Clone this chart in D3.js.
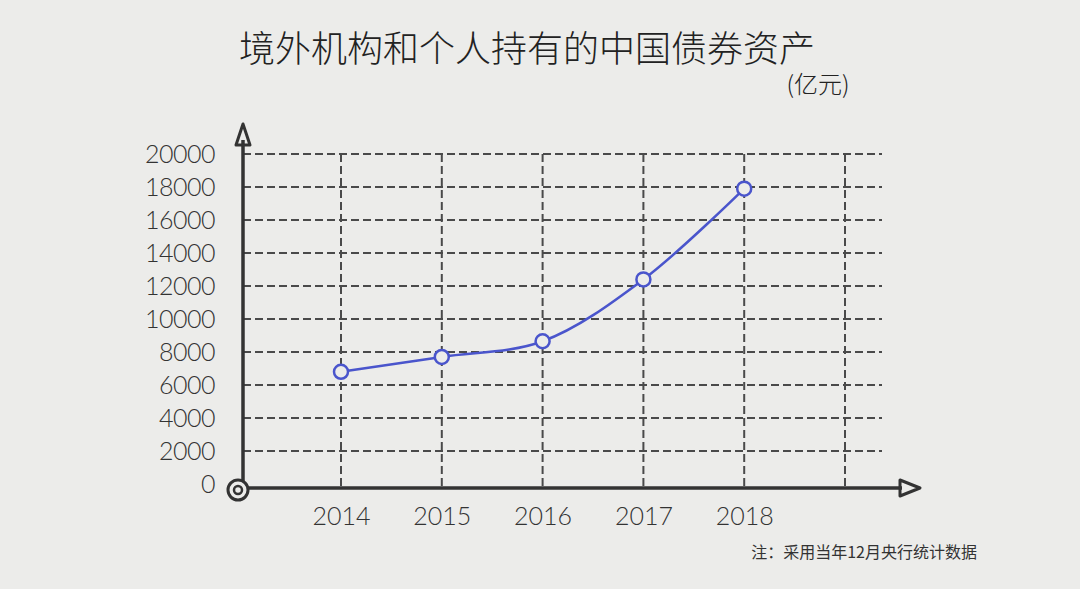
<!DOCTYPE html>
<html>
<head>
<meta charset="utf-8">
<script src="https://cdn.jsdelivr.net/npm/d3@7"></script>
<style>
  body { margin: 0; background: #ececea; }
  svg { display: block; }
</style>
</head>
<body>
<div id="graph"></div>
<script>
// data
const years = ["2014", "2015", "2016", "2017", "2018"];
const holdings = [6800, 7700, 8650, 12400, 17900];
const yTicks = [0, 2000, 4000, 6000, 8000, 10000, 12000, 14000, 16000, 18000, 20000];
const titleText = "境外机构和个人持有的中国债券资产";
const unitText = "(亿元)";
const noteText = "注：采用当年12月央行统计数据";

const W = 1080, H = 589;
const ink = "#333";
const blue = "#4a55cc";
const font = "'Noto Sans CJK SC', 'Noto Sans', sans-serif";
const numFont = "Lato, 'Liberation Sans', sans-serif";

const svg = d3.select("#graph")
    .append("svg")
    .attr("width", W)
    .attr("height", H);

svg.append("rect").attr("width", W).attr("height", H).attr("fill", "#ececea");

// x uses one extra slot so the last dashed column sits right of 2018
const x = d3.scalePoint().domain(years.concat(["_"])).range([341, 845]);
const y = d3.scaleLinear().domain([0, 20000]).range([484, 154]);
const x0 = 243, xEnd = 882, axisY = 488;

// horizontal dashed grid
svg.append("g").selectAll("line")
    .data(yTicks.filter(d => d > 0))
    .join("line")
    .attr("x1", x0).attr("x2", xEnd)
    .attr("y1", d => y(d)).attr("y2", d => y(d))
    .attr("stroke", "#4a4a4a").attr("stroke-width", 2)
    .attr("stroke-dasharray", "8,4");

// vertical dashed grid
svg.append("g").selectAll("line")
    .data(x.domain())
    .join("line")
    .attr("x1", d => x(d)).attr("x2", d => x(d))
    .attr("y1", y(20000)).attr("y2", axisY)
    .attr("stroke", "#4a4a4a").attr("stroke-width", 2)
    .attr("stroke-dasharray", "8,4");

// y axis labels
const yAxis = d3.axisLeft(y).tickValues(yTicks).tickFormat(d3.format("d")).tickSize(0).tickPadding(0);
const gy = svg.append("g").attr("transform", "translate(215,0)").call(yAxis);
gy.select(".domain").remove();
gy.selectAll("text")
    .attr("font-family", numFont).attr("font-size", 25).attr("font-weight", 300)
    .attr("fill", ink).attr("letter-spacing", -0.5).attr("dy", "0.35em");

// x axis labels
const xAxis = d3.axisBottom(x).tickValues(years).tickSize(0).tickPadding(0);
const gx = svg.append("g").attr("transform", "translate(0,505)").call(xAxis);
gx.select(".domain").remove();
gx.selectAll("text")
    .attr("font-family", numFont).attr("font-size", 25).attr("font-weight", 300)
    .attr("fill", ink).attr("dy", "0.8em");

// axes lines with open arrow heads
svg.append("line").attr("x1", x0).attr("x2", x0).attr("y1", axisY).attr("y2", 140)
    .attr("stroke", ink).attr("stroke-width", 3.5);
svg.append("path").attr("d", `M${x0 - 7},145 L${x0},124 L${x0 + 7},145 Z`)
    .attr("fill", "none").attr("stroke", ink).attr("stroke-width", 3).attr("stroke-linejoin", "round");
svg.append("line").attr("x1", x0).attr("x2", 902).attr("y1", axisY).attr("y2", axisY)
    .attr("stroke", ink).attr("stroke-width", 3.5);
svg.append("path").attr("d", `M900,${axisY - 8} L920,${axisY} L900,${axisY + 8} Z`)
    .attr("fill", "none").attr("stroke", ink).attr("stroke-width", 3).attr("stroke-linejoin", "round");

// origin
svg.append("circle").attr("cx", 238).attr("cy", 490).attr("r", 10)
    .attr("fill", "#ececea").attr("stroke", ink).attr("stroke-width", 3);
svg.append("circle").attr("cx", 238).attr("cy", 490).attr("r", 4)
    .attr("fill", "none").attr("stroke", ink).attr("stroke-width", 2.5);

// data line
const pts = years.map((d, i) => ({ year: d, value: holdings[i] }));
svg.append("path")
    .datum(pts)
    .attr("fill", "none")
    .attr("stroke", blue)
    .attr("stroke-width", 2.5)
    .attr("d", d3.line().x(d => x(d.year)).y(d => y(d.value)).curve(d3.curveCatmullRom.alpha(0.5)));

svg.append("g").selectAll("circle")
    .data(pts)
    .join("circle")
    .attr("cx", d => x(d.year)).attr("cy", d => y(d.value)).attr("r", 7)
    .attr("fill", "#ececea").attr("stroke", blue).attr("stroke-width", 2.5);

// titles
svg.append("text").attr("x", 527).attr("y", 62).attr("text-anchor", "middle")
    .attr("font-family", font).attr("font-size", 36).attr("font-weight", 300)
    .attr("fill", "#222").text(titleText);
svg.append("text").attr("x", 818).attr("y", 93).attr("text-anchor", "middle")
    .attr("font-family", font).attr("font-size", 24).attr("font-weight", 300)
    .attr("fill", "#222").text(unitText);
svg.append("text").attr("x", 977).attr("y", 558).attr("text-anchor", "end")
    .attr("font-family", font).attr("font-size", 16)
    .attr("fill", "#333").text(noteText);
</script>
</body>
</html>
